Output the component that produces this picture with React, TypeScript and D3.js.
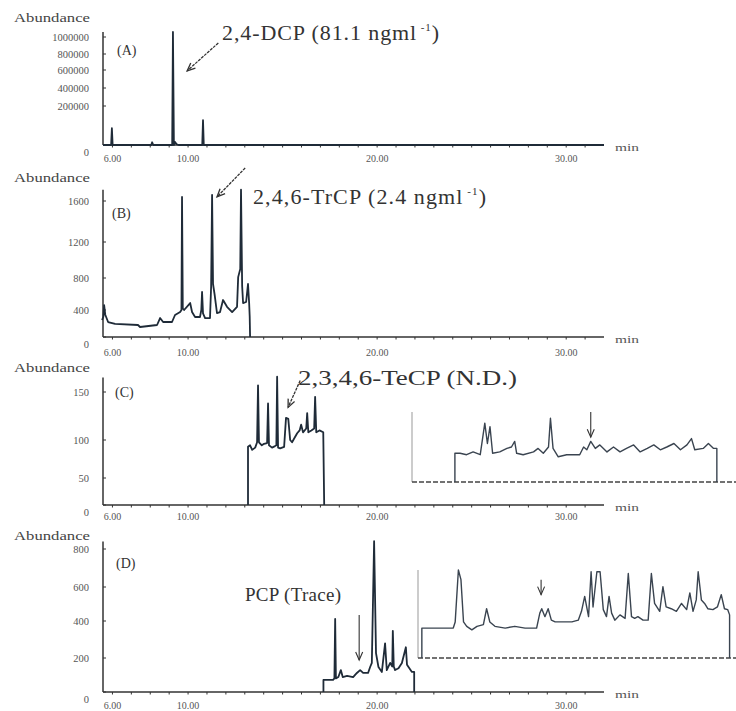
import React from "react";
import * as d3 from "d3";

type Pt = [number, number];

// retention time axis (min), shared by the four chromatograms
const timeDomain = [5.5, 32];
const timeTicks = [6, 10, 20, 30];
const timeTickLabels = ["6.00", "10.00", "20.00", "30.00"];
const minuteTicks = [6, 7, 8, 9, 10, 11, 12, 13, 14, 15, 16, 17, 18, 19, 20, 21, 22, 23, 24, 25, 26, 27, 28, 29, 30, 31];

// (A)
const aTicks = [0, 200000, 400000, 600000, 800000, 1000000];
const aTickLabels = ["0", "200000", "400000", "600000", "800000", "1000000"];
const aTrace: Pt[] = [
  [5.5, 0], [5.93, 0], [5.97, 86000], [6.01, 0], [8.05, 0], [8.1, 14000], [8.16, 0],
  [9.16, 0], [9.2, 1060000], [9.25, 0], [9.3, 16000], [9.4, 4000], [9.5, 0],
  [10.75, 0], [10.79, 127000], [10.83, 0], [32, 0],
];

// (B)
const bTicks = [0, 400, 800, 1200, 1600];
const bTickLabels = ["0", "400", "800", "1200", "1600"];
const bTrace: Pt[] = [
  [5.45, 252], [5.52, 300], [5.56, 462], [5.62, 330], [5.77, 222], [6.14, 193], [7.35, 178],
  [7.46, 148], [8.36, 178], [8.52, 281], [8.68, 222], [9.15, 222], [9.31, 326], [9.58, 370],
  [9.65, 400], [9.68, 1640], [9.72, 420], [9.79, 400], [10.11, 487], [10.21, 370], [10.37, 296],
  [10.63, 296], [10.7, 400], [10.74, 625], [10.79, 350], [10.9, 281], [11.16, 281], [11.22, 700],
  [11.27, 1660], [11.32, 725], [11.4, 600], [11.53, 355], [11.69, 370], [11.85, 525], [12.06, 440],
  [12.33, 370], [12.59, 440], [12.65, 810], [12.76, 900], [12.8, 1710], [12.86, 700], [12.91, 487],
  [13.07, 500], [13.17, 725], [13.23, 487], [13.26, 300], [13.28, 0],
];

// (C)
const cTicks = [0, 50, 100, 150];
const cTickLabels = ["0", "50", "100", "150"];
const cTrace: Pt[] = [
  [13.17, 0], [13.17, 91], [13.28, 93], [13.39, 87], [13.55, 90], [13.65, 97], [13.7, 157],
  [13.75, 97], [13.9, 93], [14.02, 95], [14.18, 96], [14.23, 138], [14.28, 93], [14.44, 90],
  [14.6, 92], [14.67, 93], [14.71, 166], [14.76, 90], [14.87, 89], [15.08, 91], [15.18, 123],
  [15.3, 122], [15.4, 100], [15.5, 97], [15.77, 107], [15.9, 110], [15.98, 116], [16.08, 108],
  [16.25, 112], [16.3, 128], [16.36, 108], [16.52, 110], [16.67, 112], [16.72, 145], [16.78, 108],
  [16.95, 110], [17.15, 108], [17.2, 0],
];
// (C) enlarged inset
const cInsetDomain = [12.5, 17.5];
const cInsetTrace: Pt[] = [
  [13.16, 0], [13.16, 41], [13.24, 41], [13.34, 39], [13.44, 43], [13.55, 39], [13.62, 84],
  [13.66, 55], [13.7, 79], [13.74, 41], [13.85, 43], [13.96, 48], [14.03, 50], [14.08, 58],
  [14.11, 41], [14.21, 39], [14.37, 43], [14.44, 48], [14.52, 41], [14.6, 50], [14.63, 91],
  [14.67, 48], [14.75, 36], [14.88, 39], [15.08, 39], [15.14, 50], [15.19, 46], [15.25, 58],
  [15.32, 48], [15.39, 53], [15.5, 43], [15.6, 50], [15.7, 43], [15.8, 48], [15.91, 53],
  [16.01, 43], [16.12, 48], [16.22, 53], [16.32, 46], [16.42, 50], [16.53, 55], [16.63, 46],
  [16.73, 53], [16.8, 62], [16.85, 46], [16.98, 48], [17.06, 55], [17.14, 48], [17.19, 48], [17.19, 0],
];

// (D)
const dTicks = [0, 200, 400, 600, 800];
const dTickLabels = ["0", "200", "400", "600", "800"];
const dTrace: Pt[] = [
  [17.16, 0], [17.16, 71], [17.67, 71], [17.74, 80], [17.78, 412], [17.82, 80], [17.95, 88],
  [18.08, 129], [18.18, 88], [18.41, 95], [18.73, 88], [18.93, 112], [19.1, 129], [19.26, 112],
  [19.52, 112], [19.63, 147], [19.72, 171], [19.84, 841], [19.94, 226], [20.07, 147], [20.25, 118],
  [20.42, 279], [20.51, 129], [20.69, 171], [20.8, 150], [20.83, 347], [20.88, 150], [20.95, 129],
  [21.13, 140], [21.31, 171], [21.52, 258], [21.58, 160], [21.66, 147], [21.84, 118], [21.96, 118], [21.96, 0],
];
// (D) enlarged inset
const dInsetDomain = [17.1, 22.06];
const dInsetTrace: Pt[] = [
  [17.16, 0], [17.16, 34], [17.42, 34], [17.65, 34], [17.68, 41], [17.73, 100], [17.77, 89],
  [17.81, 41], [17.86, 36], [17.94, 32], [18.02, 36], [18.12, 38], [18.17, 56], [18.22, 41],
  [18.3, 36], [18.46, 34], [18.61, 36], [18.77, 34], [18.95, 34], [19.0, 51], [19.03, 56],
  [19.08, 47], [19.13, 56], [19.18, 43], [19.24, 41], [19.34, 41], [19.5, 41], [19.6, 43],
  [19.65, 53], [19.7, 70], [19.76, 47], [19.8, 98], [19.83, 58], [19.89, 98], [19.94, 98],
  [19.99, 55], [20.04, 47], [20.08, 70], [20.12, 51], [20.17, 43], [20.25, 49], [20.33, 45],
  [20.38, 96], [20.43, 47], [20.48, 45], [20.53, 47], [20.61, 43], [20.69, 43], [20.74, 96],
  [20.79, 62], [20.87, 53], [20.92, 81], [20.97, 58], [21.05, 56], [21.13, 53], [21.21, 62],
  [21.29, 55], [21.34, 74], [21.39, 53], [21.44, 66], [21.47, 98], [21.52, 66], [21.57, 62],
  [21.62, 56], [21.7, 55], [21.77, 58], [21.83, 72], [21.88, 56], [21.93, 55], [21.96, 49], [21.96, 0],
];

const SERIF = "'Liberation Serif', 'DejaVu Serif', serif";
const INK = "#1f2b38";
const AXIS = "#333";

const x = d3.scaleLinear().domain(timeDomain).range([103, 604]);

function Arrow({ x1, y1, x2, y2, w = 1.3 }: { x1: number; y1: number; x2: number; y2: number; w?: number }) {
  const a = Math.atan2(y2 - y1, x2 - x1);
  const L = 8, S = 3.5;
  const bx = x2 - L * Math.cos(a), by = y2 - L * Math.sin(a);
  const p1 = [bx + S * Math.sin(a), by - S * Math.cos(a)];
  const p2 = [bx - S * Math.sin(a), by + S * Math.cos(a)];
  return (
    <g stroke="#333" strokeWidth={w} fill="none">
      <line x1={x1} y1={y1} x2={x2} y2={y2} strokeDasharray={w > 1.2 ? "3 1" : undefined} />
      <path d={`M${p1[0]},${p1[1]}L${x2},${y2}L${p2[0]},${p2[1]}`} />
    </g>
  );
}

type PanelProps = {
  label: string;
  ticks: number[];
  tickLabels: string[];
  yRange: number[];
  top: number;
  trace: Pt[];
  abundanceY: number;
  labelY: number;
  labelX: number;
  xLabelY: number;
};

function Panel(p: PanelProps) {
  const y = d3.scaleLinear().domain(p.ticks).range(p.yRange);
  const base = y(0);
  const line = d3.line<Pt>().x(d => x(d[0])).y(d => y(d[1]));
  return (
    <g>
      <text x={14} y={p.abundanceY} fontSize={12} fill="#444" fontFamily={SERIF} textLength={76} lengthAdjust="spacingAndGlyphs" dominantBaseline="central">Abundance</text>
      {p.ticks.map((t, i) => (
        <g key={t}>
          <text x={89} y={y(t) + (t === 0 ? 7 : 0)} fontSize={10.5} fill="#555" fontFamily={SERIF} textAnchor="end" dominantBaseline="central">{p.tickLabels[i]}</text>
          <line x1={x(timeDomain[0])} x2={x(timeDomain[0]) + 3} y1={y(t)} y2={y(t)} stroke={AXIS} />
        </g>
      ))}
      <line x1={x(timeDomain[0])} x2={x(timeDomain[0])} y1={y(p.top)} y2={base} stroke={AXIS} strokeWidth={1.5} />
      <line x1={x(timeDomain[0])} x2={x(timeDomain[1])} y1={base} y2={base} stroke={AXIS} strokeWidth={1.6} />
      {minuteTicks.map(t => (
        <line key={t} x1={x(t)} x2={x(t)} y1={base} y2={base + 2.5} stroke={AXIS} strokeWidth={1} />
      ))}
      {timeTicks.map((t, i) => (
        <text key={t} x={x(t)} y={p.xLabelY} fontSize={10} fill="#555" fontFamily={SERIF} textAnchor="middle" dominantBaseline="central">{timeTickLabels[i]}</text>
      ))}
      <text x={615} y={base + 2} fontSize={11} fill="#555" fontFamily={SERIF} textLength={24} lengthAdjust="spacingAndGlyphs" dominantBaseline="central">min</text>
      <text x={p.labelX} y={p.labelY} fontSize={14} fill="#333" fontFamily={SERIF} dominantBaseline="central">{p.label}</text>
      <path d={line(p.trace) || ""} fill="none" stroke={INK} strokeWidth={1.8} strokeLinejoin="round" />
    </g>
  );
}

function Inset({ domain, xRange, yRange, trace }: { domain: number[]; xRange: number[]; yRange: number[]; trace: Pt[] }) {
  const xi = d3.scaleLinear().domain(domain).range(xRange);
  const yi = d3.scaleLinear().domain([0, 100]).range(yRange);
  const line = d3.line<Pt>().x(d => xi(d[0])).y(d => yi(d[1]));
  return (
    <g>
      <line x1={xi(domain[0])} x2={xi(domain[0])} y1={yi(100)} y2={yi(0)} stroke="#aaa" strokeWidth={1.2} />
      <line x1={xi(domain[0])} x2={xi(domain[1])} y1={yi(0)} y2={yi(0)} stroke="#444" strokeWidth={1.6} strokeDasharray="5 2" />
      <path d={line(trace) || ""} fill="none" stroke="#3a4450" strokeWidth={1.4} strokeLinejoin="round" />
    </g>
  );
}

export default function App() {
  const yA = d3.scaleLinear().domain(aTicks).range([145, 106, 88, 70, 54, 37]);
  const yB = d3.scaleLinear().domain(bTicks).range([337, 310, 278, 242, 201]);
  const yC = d3.scaleLinear().domain(cTicks).range([505, 478, 440, 392]);
  const yD = d3.scaleLinear().domain(dTicks).range([692, 658, 621, 587, 549]);
  const xCi = d3.scaleLinear().domain(cInsetDomain).range([412, 737]);
  const yCi = d3.scaleLinear().domain([0, 100]).range([482, 412]);
  const xDi = d3.scaleLinear().domain(dInsetDomain).range([418, 736]);
  const yDi = d3.scaleLinear().domain([0, 100]).range([658, 570]);

  return (
    <svg width={736} height={711} style={{ display: "block", position: "absolute", left: 0, top: 0, background: "#fff" }}>
      <rect width={736} height={711} fill="#fff" />
      <Panel label="(A)" ticks={aTicks} tickLabels={aTickLabels} yRange={[145, 106, 88, 70, 54, 37]} top={1060000}
        trace={aTrace} abundanceY={18} labelX={117} labelY={50} xLabelY={158} />
      <Panel label="(B)" ticks={bTicks} tickLabels={bTickLabels} yRange={[337, 310, 278, 242, 201]} top={1710}
        trace={bTrace} abundanceY={178} labelX={112} labelY={213} xLabelY={352} />
      <Panel label="(C)" ticks={cTicks} tickLabels={cTickLabels} yRange={[505, 478, 440, 392]} top={165}
        trace={cTrace} abundanceY={368} labelX={115} labelY={392} xLabelY={516} />
      <Panel label="(D)" ticks={dTicks} tickLabels={dTickLabels} yRange={[692, 658, 621, 587, 549]} top={840}
        trace={dTrace} abundanceY={536} labelX={116} labelY={563} xLabelY={705} />

      <Inset domain={cInsetDomain} xRange={[412, 737]} yRange={[482, 412]} trace={cInsetTrace} />
      <Inset domain={dInsetDomain} xRange={[418, 736]} yRange={[658, 570]} trace={dInsetTrace} />

      {/* compound annotations */}
      <text x={222} y={40} fontSize={22} fill="#333" fontFamily={SERIF} letterSpacing={0.9}>
        2,4-DCP (81.1 ngml<tspan fontSize={11} dy={-9}> -1</tspan><tspan dy={9}>)</tspan>
      </text>
      <Arrow x1={x(11.6)} y1={yA(930000)} x2={x(9.95)} y2={yA(590000)} />

      <text x={253} y={204} fontSize={22} fill="#333" fontFamily={SERIF} letterSpacing={1.1}>
        2,4,6-TrCP (2.4 ngml<tspan fontSize={11} dy={-9}> -1</tspan><tspan dy={9}>)</tspan>
      </text>
      <Arrow x1={x(13.02)} y1={yB(1922)} x2={x(11.53)} y2={yB(1640)} />

      <text x={298} y={385} fontSize={22} fill="#333" fontFamily={SERIF} textLength={219} lengthAdjust="spacingAndGlyphs">2,3,4,6-TeCP (N.D.)</text>
      <Arrow x1={x(15.93)} y1={yC(162)} x2={x(15.29)} y2={yC(134)} />
      <Arrow x1={xCi(15.25)} y1={yCi(100)} x2={xCi(15.25)} y2={yCi(64)} w={1.1} />

      <text x={245} y={601} fontSize={19} fill="#333" fontFamily={SERIF} letterSpacing={0.3}>PCP (Trace)</text>
      <Arrow x1={x(19.05)} y1={yD(435)} x2={x(19.05)} y2={yD(188)} w={1.1} />
      <Arrow x1={xDi(19.02)} y1={yDi(89)} x2={xDi(19.02)} y2={yDi(72)} w={1.1} />
    </svg>
  );
}
